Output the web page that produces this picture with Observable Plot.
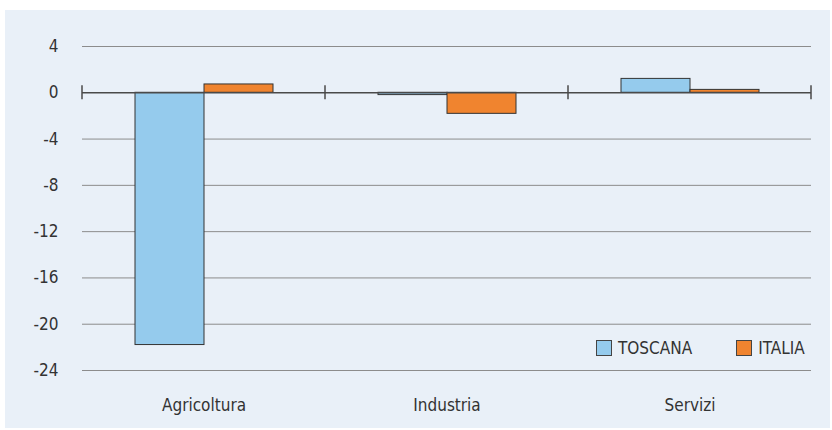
<!DOCTYPE html>
<html>
<head>
<meta charset="utf-8">
<script src="https://cdn.jsdelivr.net/npm/d3@7"></script>
<script src="https://cdn.jsdelivr.net/npm/@observablehq/plot@0.6"></script>
<style>
  html, body { margin: 0; padding: 0; background: #ffffff; }
  #panel { position: absolute; left: 5px; top: 10px; width: 825px; height: 418px; background: #e9f0f8; }
  #legend { position: absolute; left: 591px; top: 328px; display: flex; align-items: center; font-family: "Liberation Sans Narrow", "Arial Narrow", "DejaVu Sans Condensed", sans-serif; font-size: 17px; color: #333; }
  .item { display: flex; align-items: center; margin-right: 0; }
  .sw { width: 14px; height: 14px; border: 1.5px solid #444; margin-right: 6px; }
</style>
</head>
<body>
<div id="panel"></div>
<script>
const categories = ["Agricoltura", "Industria", "Servizi"];
const series = ["TOSCANA", "ITALIA"];
const toscana = [-21.8, -0.2, 1.2];
const italia = [0.72, -1.82, 0.25];
const yTicks = [4, 0, -4, -8, -12, -16, -20, -24];
const colors = ["#95cbed", "#f0842f"];

const data = categories.flatMap((c, i) => [
  {cat: c, s: series[0], v: toscana[i]},
  {cat: c, s: series[1], v: italia[i]}
]);

const font = '"Liberation Sans Narrow", "Arial Narrow", "DejaVu Sans Condensed", sans-serif';

const plot = Plot.plot({
  width: 825,
  height: 418,
  marginLeft: 77,
  marginRight: 19,
  marginTop: 36,
  marginBottom: 58,
  style: {background: "transparent", fontFamily: font, fontSize: "17px", color: "#333"},
  fx: {domain: categories, padding: 0, label: null, axis: "bottom", tickSize: 0, tickPadding: 28},
  x: {domain: series, paddingInner: 0, paddingOuter: 0.76, axis: null},
  y: {domain: [-24, 4], ticks: yTicks, tickSize: 0, tickPadding: 24, label: null, tickFormat: d => String(d)},
  color: {domain: series, range: colors},
  marks: [
    Plot.ruleY(yTicks.filter(d => d !== 0), {stroke: "#8c8c8c", strokeWidth: 1}),
    Plot.barY(data, {fx: "cat", x: "s", y: "v", fill: "s", stroke: "#333", strokeWidth: 1}),
    Plot.ruleY([0], {stroke: "#4a4a4a", strokeWidth: 1.5})
  ]
});

// category boundary ticks on the zero line, positioned with the plot's own scales
const fx = plot.scale("fx");
const y = plot.scale("y");
const y0 = y.apply(0);
const edges = categories.map(c => fx.apply(c)).concat([fx.apply(categories[categories.length - 1]) + fx.bandwidth]);
d3.select(plot).append("g")
  .selectAll("line").data(edges).join("line")
  .attr("x1", d => d).attr("x2", d => d)
  .attr("y1", y0 - 7).attr("y2", y0 + 7)
  .attr("stroke", "#4a4a4a").attr("stroke-width", 1.5);

const panel = document.getElementById("panel");
panel.appendChild(plot);

const legend = document.createElement("div");
legend.id = "legend";
series.forEach((s, i) => {
  const it = document.createElement("div");
  it.className = "item";
  if (i > 0) it.style.marginLeft = "44px";
  const sw = document.createElement("div");
  sw.className = "sw";
  sw.style.background = colors[i];
  const t = document.createElement("span");
  t.textContent = s;
  it.appendChild(sw); it.appendChild(t);
  legend.appendChild(it);
});
panel.appendChild(legend);
</script>
</body>
</html>
